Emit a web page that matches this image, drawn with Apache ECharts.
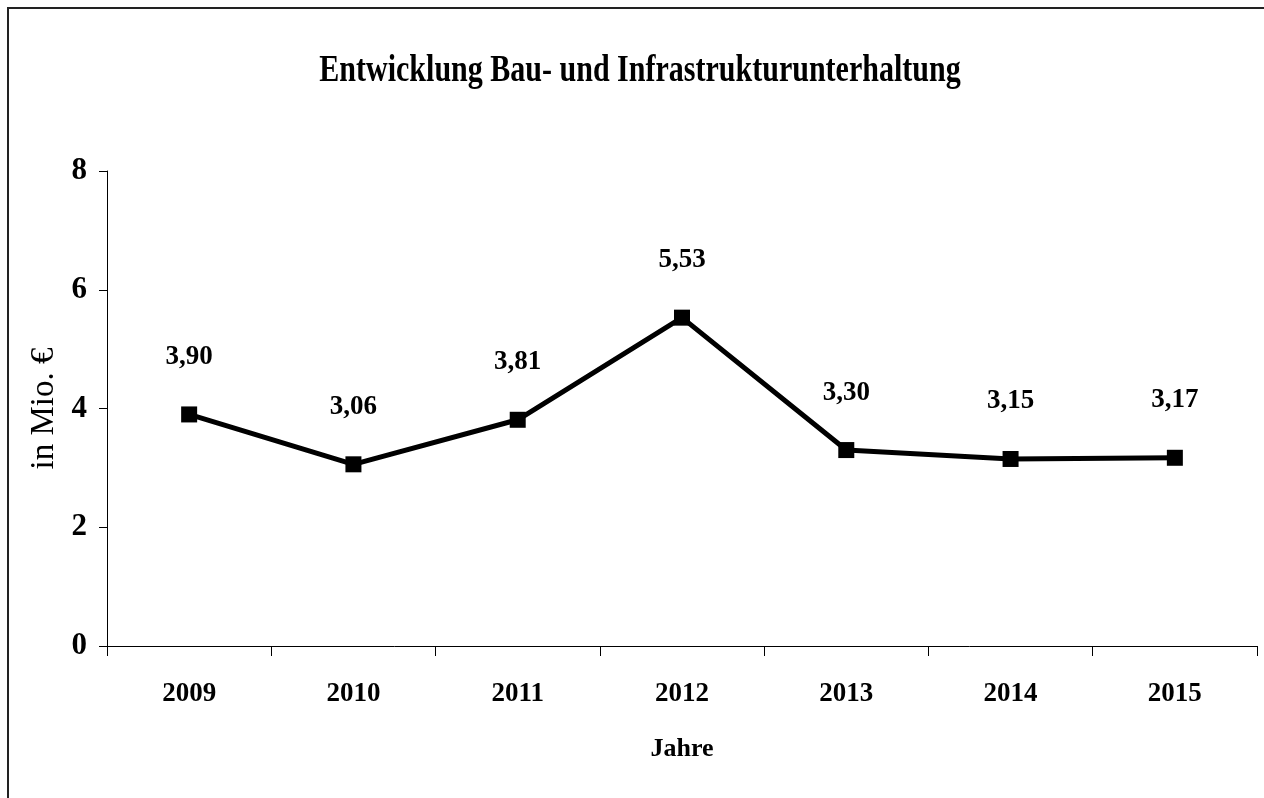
<!DOCTYPE html>
<html>
<head>
<meta charset="utf-8">
<script src="https://cdn.jsdelivr.net/npm/echarts@6/dist/echarts.min.js"></script>
<style>
  html, body { margin: 0; padding: 0; background: #fff; }
  #chart { width: 1264px; height: 798px; }
</style>
</head>
<body>
<div id="chart"></div>
<script>
// Daten (in Mio. €)
const years = ['2009', '2010', '2011', '2012', '2013', '2014', '2015'];
const values = [3.90, 3.06, 3.81, 5.53, 3.30, 3.15, 3.17];
const yTicks = [0, 2, 4, 6, 8];

const titleText = 'Entwicklung Bau- und Infrastrukturunterhaltung';
const serif = '"Liberation Serif", "Times New Roman", serif';

const chart = echarts.init(document.getElementById('chart'));

const option = {
  backgroundColor: '#fff',
  animation: false,
  // Rahmen + Titel (gestaucht wie im Original)
  graphic: [
    {
      type: 'rect',
      silent: true,
      shape: { x: 8, y: 8, width: 1400, height: 900 },
      style: { fill: 'none', stroke: '#222', lineWidth: 2 }
    },
    {
      type: 'text',
      x: 640,
      y: 71,
      scaleX: 0.79,
      style: {
        text: titleText,
        font: 'bold 38px ' + serif,
        fill: '#000',
        align: 'center',
        verticalAlign: 'middle'
      }
    }
  ],
  grid: { left: 107, right: 7, top: 171, bottom: 152 },
  xAxis: {
    type: 'category',
    data: years,
    boundaryGap: true,
    name: 'Jahre',
    nameLocation: 'middle',
    nameGap: 90,
    nameTextStyle: { fontFamily: serif, fontWeight: 'bold', fontSize: 26, color: '#000' },
    axisLine: { lineStyle: { color: '#000', width: 1 } },
    axisTick: { show: true, alignWithLabel: false, length: 10, lineStyle: { color: '#000' } },
    axisLabel: { fontFamily: serif, fontWeight: 'bold', fontSize: 27, color: '#000', margin: 35 },
    splitLine: { show: false }
  },
  yAxis: {
    type: 'value',
    min: yTicks[0],
    max: yTicks[yTicks.length - 1],
    interval: yTicks[1] - yTicks[0],
    name: 'in Mio. €',
    nameLocation: 'middle',
    nameGap: 44,
    nameRotate: 90,
    nameTextStyle: { fontFamily: serif, fontSize: 33, color: '#000' },
    axisLine: { show: true, lineStyle: { color: '#000', width: 1 } },
    axisTick: { show: true, length: 8, lineStyle: { color: '#000' } },
    axisLabel: { fontFamily: serif, fontWeight: 'bold', fontSize: 31, color: '#000', margin: 20 },
    splitLine: { show: false }
  },
  series: [
    {
      type: 'line',
      data: values,
      symbol: 'rect',
      symbolSize: 16,
      lineStyle: { color: '#000', width: 5 },
      itemStyle: { color: '#000' },
      label: {
        show: true,
        position: 'top',
        distance: 36,
        fontFamily: serif,
        fontWeight: 'bold',
        fontSize: 27,
        color: '#000',
        formatter: p => p.value.toFixed(2).replace('.', ',')
      }
    }
  ]
};

chart.setOption(option);
window.addEventListener('resize', () => chart.resize());
</script>
</body>
</html>
